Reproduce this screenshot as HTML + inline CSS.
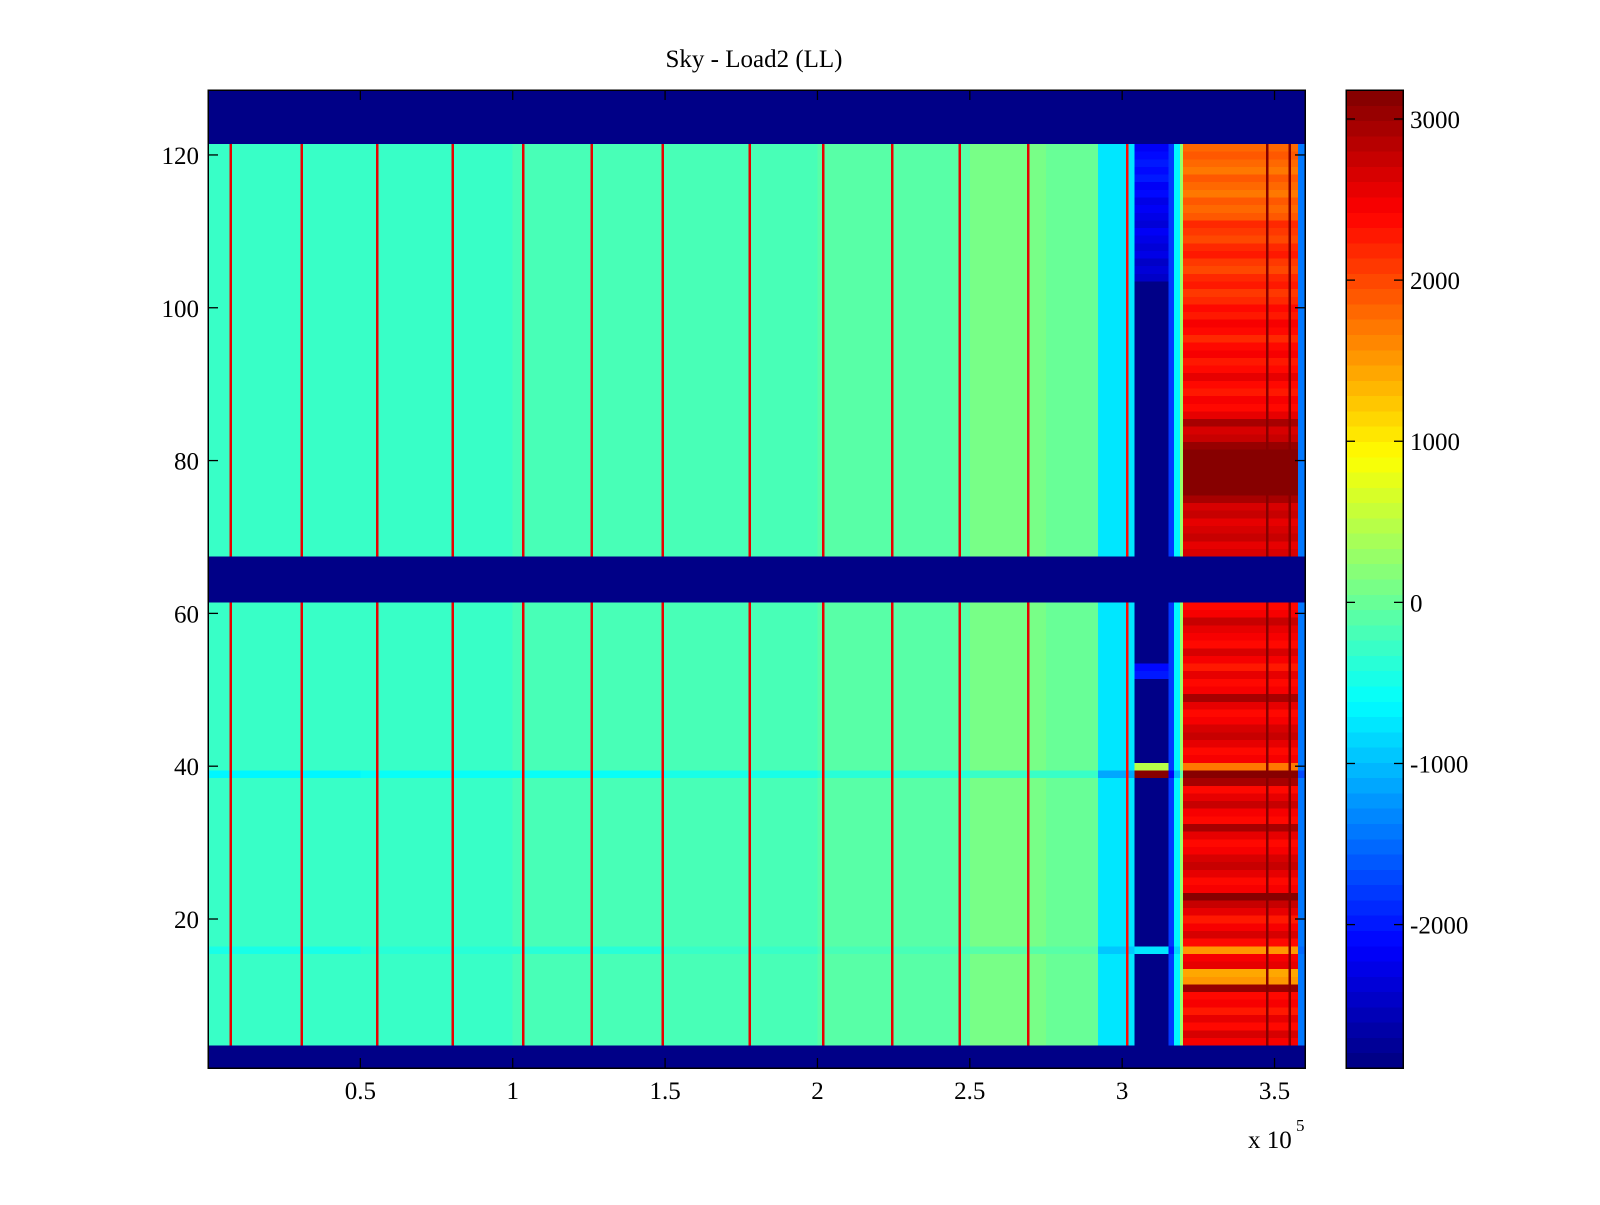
<!DOCTYPE html>
<html><head><meta charset="utf-8">
<style>
html,body{margin:0;padding:0;background:#fff;}
svg text{font-family:"Liberation Serif",serif;fill:#000;}
</style></head>
<body>
<svg id="chart" width="1600" height="1200" xmlns="http://www.w3.org/2000/svg">
<rect width="1600" height="1200" fill="#fff"/>
<text x="754" y="67" font-size="25" text-anchor="middle">Sky - Load2 (LL)</text>
<g id="cells"></g>
<g id="axes"></g>
<g id="cbar"></g>
</svg>
<script>
// ---- data ----
const xMax = 3.6;            // x in units of 1e5
const nRows = 128;
const cMin = -2890, cMax = 3180;
const blankVal = -2890;
const blankRows = [1,2,3,62,63,64,65,66,67,122,123,124,125,126,127,128];
// background segments: start, end (x/1e5), value
const segStart = [0.0, 0.5, 1.0, 1.5, 2.0, 2.5, 2.75, 2.92, 3.15, 3.17, 3.19, 3.575];
const segEnd   = [0.5, 1.0, 1.5, 2.0, 2.5, 2.75, 2.92, 3.04, 3.17, 3.19, 3.2, 3.6];
const segVal   = [-300, -250, -200, -150, -50, 100, 50, -800, -1800, -700, 300, -1400];
// gap region (dark) and red region
const gapStart = 3.04, gapEnd = 3.15;
const redStart = 3.2, redEnd = 3.575;
// per-row values in red region (rows 1..128)
const redRow = [
 0,0,0,2500,2700,2400,2600,2300,2500,2400,3000,1500,1400,2600,2500,1500,2400,2700,2500,2300,
 2600,2800,3100,2500,2400,2600,2800,2700,2500,2400,2600,2900,2400,2500,2800,2600,2400,2900,3150,1700,
 2500,2400,2600,2800,2700,2500,2400,2600,2900,2500,2400,2600,2300,2500,2700,2400,2500,2600,2800,2500,
 2400,0,0,0,0,0,0,2700,2600,2800,2700,2600,2800,2700,2900,3100,3150,3100,3150,3100,
 3150,3000,2800,2700,2900,2600,2400,2500,2300,2400,2600,2400,2300,2500,2400,2200,2400,2500,2300,2400,
 2200,2100,2300,2200,2000,2100,2300,2200,2000,2100,2200,1900,1800,1900,1700,1800,1900,1700,1800,1900,
 1800,0,0,0,0,0,0,0];
// gap region row overrides (row, value); others blankVal
const gapRows = [16, 39, 40, 52, 53, 104,105,106,107,108,109,110,111,112,113,114,115,116,117,118,119,120,121];
const gapVals = [-800, 3150, 500, -2000, -2100, -2500,-2400,-2500,-2300,-2400,-2300,-2200,-2400,-2300,-2200,-2300,-2100,-2200,-2000,-2100,-2000,-2100,-2200];
// rows with offsets in the background region
const offRows = [16, 39];
const offVals = [-150, -350];
// vertical spike lines (x/1e5) and values
const spikeX = [0.074,0.308,0.556,0.803,1.034,1.259,1.493,1.778,2.019,2.246,2.467,2.692,3.017,3.476,3.55];
const spikeV = [2600,2600,2600,2600,2600,2600,2600,2600,2600,2600,2600,2600,2400,3180,3180];
const spikeW = 0.008;
// ticks
const xTicks = [0.5,1,1.5,2,2.5,3,3.5];
const xTickLabels = ["0.5","1","1.5","2","2.5","3","3.5"];
const yTicks = [20,40,60,80,100,120];
const cTicks = [-2000,-1000,0,1000,2000,3000];

// ---- layout ----
const L=208, R=1305, T=90, B=1068;
const CL=1346, CR=1403;
const NS="http://www.w3.org/2000/svg";
const xs = v => L + v/xMax*(R-L);
const rowH = (B-T)/nRows;
const yTop = r => T + (nRows - r)*rowH;
const yVal = v => T + (nRows + 0.5 - v)*rowH;
const cy = v => B - (v-cMin)/(cMax-cMin)*(B-T);

function jet(v){
  let t=(v-cMin)/(cMax-cMin); t=Math.max(0,Math.min(1,t));
  let i=Math.min(63,Math.floor(t*64)); t=(i+0.5)/64;
  const f=x=>Math.max(0,Math.min(1,x));
  const r=f(1.5-Math.abs(4*t-3)), g=f(1.5-Math.abs(4*t-2)), b=f(1.5-Math.abs(4*t-1));
  return `rgb(${Math.round(r*255)},${Math.round(g*255)},${Math.round(b*255)})`;
}
function rect(p,x,y,w,h,fill,name){
  const e=document.createElementNS(NS,'rect');
  e.setAttribute('x',x);e.setAttribute('y',y);e.setAttribute('width',w);e.setAttribute('height',h);
  e.setAttribute('fill',fill);e.setAttribute('shape-rendering','crispEdges');
  
  
  p.appendChild(e);return e;
}
function line(p,x1,y1,x2,y2,name){
  const e=document.createElementNS(NS,'line');
  e.setAttribute('x1',x1);e.setAttribute('y1',y1);e.setAttribute('x2',x2);e.setAttribute('y2',y2);
  e.setAttribute('stroke','#000');e.setAttribute('stroke-width',1.3);
  
  
  p.appendChild(e);
}
function text(p,x,y,s,anchor,size,name){
  const e=document.createElementNS(NS,'text');
  e.setAttribute('x',x);e.setAttribute('y',y);e.setAttribute('text-anchor',anchor);
  e.setAttribute('font-size',size);e.textContent=s;
  
  
  p.appendChild(e);return e;
}

const cells=document.getElementById('cells');
for(let r=1;r<=nRows;r++){
  const y=yTop(r);
  if(blankRows.includes(r)){ rect(cells,L,y,R-L,rowH+0.5,jet(blankVal),'blank-row'); continue; }
  const oi=offRows.indexOf(r); const off= oi>=0?offVals[oi]:0;
  for(let s=0;s<segStart.length;s++){
    const x1=xs(segStart[s]), x2=xs(segEnd[s]);
    rect(cells,x1,y,x2-x1+0.5,rowH+0.5,jet(segVal[s]+off),'cell');
  }
  const gi=gapRows.indexOf(r); const gv= gi>=0?gapVals[gi]:blankVal;
  rect(cells,xs(gapStart),y,xs(gapEnd)-xs(gapStart)+0.5,rowH+0.5,jet(gv),'gap-cell');
  rect(cells,xs(redStart),y,xs(redEnd)-xs(redStart)+0.5,rowH+0.5,jet(redRow[r-1]),'red-cell');
  for(let k=0;k<spikeX.length;k++){
    rect(cells,xs(spikeX[k]-spikeW/2),y,Math.max(2,xs(spikeW)-L),rowH+0.5,jet(spikeV[k]),'spike-line');
  }
}

// axes
const ax=document.getElementById('axes');
const fr=rect(ax,L,T,R-L,B-T,'none','plot-frame'); fr.setAttribute('stroke','#000'); fr.setAttribute('stroke-width',1.5);
xTicks.forEach((v,i)=>{
  const x=xs(v);
  line(ax,x,B,x,B-10,'x-tick'); line(ax,x,T,x,T+10,'x-tick');
  text(ax,x,1099,xTickLabels[i],'middle',25,'x-tick-label');
});
yTicks.forEach(v=>{
  const y=yVal(v);
  line(ax,L,y,L+10,y,'y-tick'); line(ax,R,y,R-10,y,'y-tick');
  text(ax,199,y+9,String(v),'end',25,'y-tick-label');
});
text(ax,1248,1148,'x 10','start',25,'x-exponent-label');
text(ax,1296,1131,'5','start',17,'x-exponent-power');

// colorbar
const cb=document.getElementById('cbar');
for(let i=0;i<64;i++){
  const v0=cMin+(cMax-cMin)*i/64, v1=cMin+(cMax-cMin)*(i+1)/64;
  rect(cb,CL,cy(v1),CR-CL,cy(v0)-cy(v1)+0.5,jet((v0+v1)/2),'colorbar-band');
}
const cf=rect(cb,CL,T,CR-CL,B-T,'none','colorbar-frame'); cf.setAttribute('stroke','#000'); cf.setAttribute('stroke-width',1.5);
cTicks.forEach(v=>{
  const y=cy(v);
  line(cb,CL,y,CL+9,y,'colorbar-tick'); line(cb,CR,y,CR-9,y,'colorbar-tick');
  text(cb,1410,y+9,String(v),'start',25,'colorbar-tick-label');
});
</script>
</body></html>
